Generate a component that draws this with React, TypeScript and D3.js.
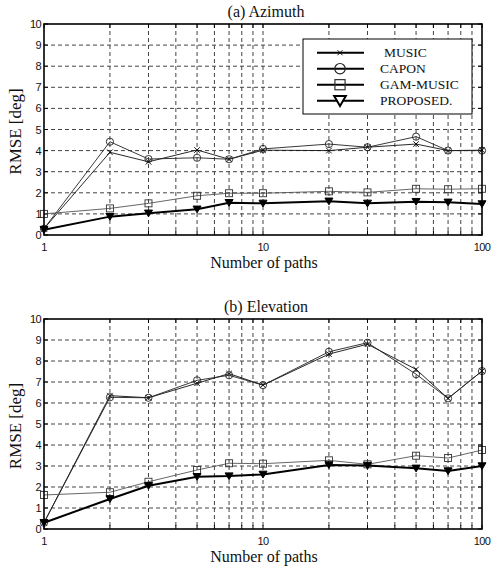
import React from "react";
import * as d3 from "d3";

const paths = [1, 2, 3, 5, 7, 10, 20, 30, 50, 70, 100];
const seriesNames = ["MUSIC", "CAPON", "GAM-MUSIC", "PROPOSED."];

const azMusic = [0.3, 3.92, 3.47, 4.03, 3.59, 4.02, 4.0, 4.16, 4.31, 4.0, 4.02];
const azCapon = [0.3, 4.42, 3.6, 3.66, 3.59, 4.08, 4.31, 4.16, 4.66, 4.0, 4.0];
const azGam = [1.0, 1.26, 1.5, 1.86, 1.98, 1.98, 2.07, 2.02, 2.19, 2.17, 2.19];
const azProp = [0.25, 0.87, 1.03, 1.22, 1.53, 1.5, 1.6, 1.5, 1.58, 1.55, 1.47];

const elMusic = [0.3, 6.35, 6.25, 6.94, 7.4, 6.85, 8.33, 8.8, 7.6, 6.22, 7.52];
const elCapon = [0.3, 6.27, 6.25, 7.08, 7.32, 6.85, 8.44, 8.87, 7.37, 6.22, 7.52];
const elGam = [1.62, 1.75, 2.25, 2.81, 3.13, 3.11, 3.27, 3.08, 3.49, 3.38, 3.76];
const elProp = [0.3, 1.43, 2.06, 2.49, 2.52, 2.6, 3.05, 3.02, 2.89, 2.76, 3.0];

const yTicks = [0, 1, 2, 3, 4, 5, 6, 7, 8, 9, 10];
const xMajor = [1, 10, 100];
const xMinor = [2, 3, 4, 5, 6, 7, 8, 9, 20, 30, 40, 50, 60, 70, 80, 90];

const serif = "'Liberation Serif', 'DejaVu Serif', serif";
const sans = "'Liberation Sans', Arial, sans-serif";

type Kind = "x" | "o" | "s" | "v";

function Marker({ kind, cx, cy, big }: { kind: Kind; cx: number; cy: number; big?: boolean }) {
  const k = big ? 1.45 : 1;
  if (kind === "x") {
    const r = 2.8 * (big ? 0.9 : 1);
    return (
      <path d={`M${cx - r},${cy - r}L${cx + r},${cy + r}M${cx - r},${cy + r}L${cx + r},${cy - r}`} stroke="#000" strokeWidth={0.9} fill="none" />
    );
  }
  if (kind === "o") {
    return <circle cx={cx} cy={cy} r={3.6 * k} fill="none" stroke="#222" strokeWidth={big ? 1.2 : 0.9} />;
  }
  if (kind === "s") {
    const h = 3.5 * k;
    return <rect x={cx - h} y={cy - h} width={2 * h} height={2 * h} fill="none" stroke="#333" strokeWidth={big ? 1.2 : 0.9} />;
  }
  const w = 4 * k;
  return (
    <path
      d={`M${cx - w},${cy - 3.2 * k}L${cx + w},${cy - 3.2 * k}L${cx},${cy + 3.6 * k}Z`}
      fill={big ? "#fff" : "#000"}
      stroke="#000"
      strokeWidth={big ? 2 : 1}
    />
  );
}

const styles: { kind: Kind; stroke: string; width: number }[] = [
  { kind: "x", stroke: "#111", width: 0.9 },
  { kind: "o", stroke: "#222", width: 0.9 },
  { kind: "s", stroke: "#555", width: 0.9 },
  { kind: "v", stroke: "#000", width: 2 },
];

function Panel({
  top,
  bottom,
  title,
  series,
  legend,
}: {
  top: number;
  bottom: number;
  title: string;
  series: number[][];
  legend?: boolean;
}) {
  const left = 44;
  const right = 482;
  const x = d3.scaleLog().domain([1, 100]).range([left, right]);
  const y = d3.scaleLinear().domain([0, 10]).range([bottom, top]);
  const line = d3
    .line<number>()
    .x((_, i) => x(paths[i]))
    .y((d) => y(d));
  const grid = "#444";
  return (
    <g>
      {/* grid */}
      {yTicks.slice(1, -1).map((t) => (
        <line key={"gy" + t} x1={left} x2={right} y1={y(t)} y2={y(t)} stroke={grid} strokeWidth={1} strokeDasharray="4,3" />
      ))}
      {[...xMinor, 10].map((t) => (
        <line key={"gx" + t} x1={x(t)} x2={x(t)} y1={top} y2={bottom} stroke={grid} strokeWidth={1} strokeDasharray="4,3" />
      ))}
      {/* inner ticks */}
      {yTicks.map((t) => (
        <g key={"ty" + t}>
          <line x1={left} x2={left + 4} y1={y(t)} y2={y(t)} stroke="#000" />
          <line x1={right - 4} x2={right} y1={y(t)} y2={y(t)} stroke="#000" />
        </g>
      ))}
      {[...xMinor, ...xMajor].map((t) => (
        <g key={"tx" + t}>
          <line x1={x(t)} x2={x(t)} y1={top} y2={top + 4} stroke="#000" />
          <line x1={x(t)} x2={x(t)} y1={bottom - 4} y2={bottom} stroke="#000" />
        </g>
      ))}
      {/* series */}
      {series.map((s, si) => (
        <g key={"s" + si}>
          <path d={line(s) || ""} fill="none" stroke={styles[si].stroke} strokeWidth={styles[si].width} />
          {s.map((v, i) => (
            <Marker key={i} kind={styles[si].kind} cx={x(paths[i])} cy={y(v)} />
          ))}
        </g>
      ))}
      {/* frame */}
      <rect x={left} y={top} width={right - left} height={bottom - top} fill="none" stroke="#000" strokeWidth={1.6} />
      {/* tick labels */}
      {yTicks.map((t) => (
        <text key={"ly" + t} x={left - 3} y={y(t) + 4} textAnchor="end" fontFamily={sans} fontSize={11} letterSpacing={-0.6} fill="#111">
          {t}
        </text>
      ))}
      {xMajor.map((t) => (
        <text key={"lx" + t} x={x(t)} y={bottom + 16} textAnchor="middle" fontFamily={sans} fontSize={11} letterSpacing={-0.6} fill="#111">
          {t}
        </text>
      ))}
      {/* titles */}
      <text x={266} y={top - 7} textAnchor="middle" fontFamily={serif} fontSize={16} fill="#111">
        {title}
      </text>
      <text x={264} y={bottom + 33} textAnchor="middle" fontFamily={serif} fontSize={16} fill="#111">
        Number of paths
      </text>
      <text
        transform={`translate(21,${(top + bottom) / 2 + 2}) rotate(-90)`}
        textAnchor="middle"
        fontFamily={serif}
        fontSize={17}
        fill="#111"
      >
        RMSE [deg]
      </text>
      {legend && (
        <g>
          <rect x={303} y={39} width={169} height={75} fill="#fff" stroke="#000" strokeWidth={1} />
          {seriesNames.map((n, i) => {
            const cy = 52.7 + i * 16;
            return (
              <g key={n}>
                <line x1={317} x2={364} y1={cy} y2={cy} stroke="#000" strokeWidth={2} />
                <Marker kind={styles[i].kind} cx={340} cy={cy} big />
                <text x={i === 0 ? 384 : 380} y={cy + 4.5} fontFamily={serif} fontSize={13.5} fill="#111">
                  {n}
                </text>
              </g>
            );
          })}
        </g>
      )}
    </g>
  );
}

export default function App() {
  return (
    <svg width={492} height={570} style={{ position: "absolute", left: 0, top: 0, background: "#fff" }}>
      <rect width={492} height={570} fill="#fff" />
      <Panel top={24} bottom={235} title="(a) Azimuth" series={[azMusic, azCapon, azGam, azProp]} legend />
      <Panel top={319} bottom={529} title="(b) Elevation" series={[elMusic, elCapon, elGam, elProp]} />
    </svg>
  );
}
